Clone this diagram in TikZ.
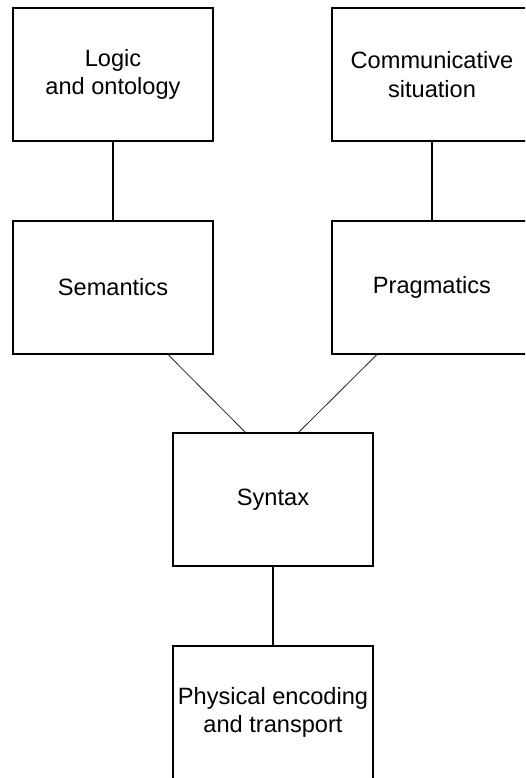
\documentclass[tikz,border=0pt]{standalone}
\usepackage{fontspec}
\setmainfont{Liberation Sans}
\begin{document}
\begin{tikzpicture}[x=0.75pt,y=-0.75pt,
  box/.style={draw=black, line width=1.5pt, minimum width=150pt, minimum height=99.75pt,
    inner sep=0pt, align=center, font=\fontsize{17.7pt}{21.5pt}\selectfont},
  thick link/.style={draw=black, line width=1.5pt},
  thin link/.style={draw=black!85, line width=0.6pt}]
\useasboundingbox (0,0) rectangle (525,778);
\clip (0,0) rectangle (525,778);
\node[box] (logic) at (113,74.5) {Logic\\and ontology};
\node[box] (comm) at (432,74.5) {Communicative\\situation};
\node[box] (sem) at (113,287) {Semantics};
\node[box] (prag) at (432,287) {Pragmatics};
\node[box] (syn) at (273,499.5) {Syntax};
\node[box] (phys) at (273,712.5) {Physical encoding\\and transport};
\draw[thick link] (logic.south) -- (sem.north);
\draw[thick link] (comm.south) -- (prag.north);
\draw[thick link] (syn.south) -- (phys.north);
\draw[thin link] ([xshift=41.25pt]sem.south) -- ([xshift=-21pt]syn.north);
\draw[thin link] ([xshift=-41.25pt]prag.south) -- ([xshift=19.5pt]syn.north);
\end{tikzpicture}
\end{document}
